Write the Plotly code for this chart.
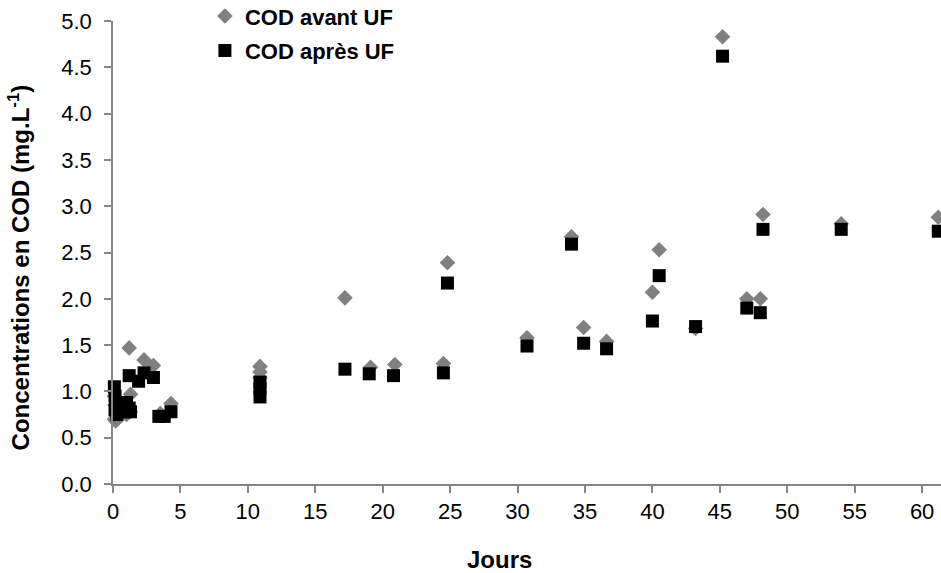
import plotly.graph_objects as go

# Data
avant_x = [0.1, 0.2, 0.15, 0.1, 0.3, 0.6, 1.0, 1.3, 1.3, 1.2, 2.3, 3.0, 3.5, 4.3,
           10.9, 10.9, 10.9, 17.2, 19.1, 20.9, 24.5, 24.8, 30.7, 34.0, 34.9, 36.6,
           40.0, 40.5, 43.2, 45.2, 47.0, 48.0, 48.2, 54.0, 61.2]
avant_y = [0.70, 0.68, 0.85, 0.95, 0.80, 0.88, 0.75, 0.97, 0.78, 1.47, 1.34, 1.28, 0.76, 0.87,
           1.27, 1.21, 1.15, 2.01, 1.26, 1.29, 1.30, 2.39, 1.58, 2.67, 1.69, 1.54,
           2.07, 2.53, 1.68, 4.83, 2.00, 2.00, 2.91, 2.81, 2.88]

apres_x = [0.1, 0.15, 0.2, 0.15, 0.3, 0.6, 0.8, 1.0, 1.2, 1.3, 1.2, 1.9, 2.3, 3.0, 3.4, 3.8, 4.3,
           10.9, 10.9, 10.9, 17.2, 19.0, 20.8, 24.5, 24.8, 30.7, 34.0, 34.9, 36.6,
           40.0, 40.5, 43.2, 45.2, 47.0, 48.0, 48.2, 54.0, 61.2]
apres_y = [1.05, 0.95, 0.88, 0.80, 0.75, 0.82, 0.78, 0.88, 0.82, 0.78, 1.17, 1.11, 1.20, 1.15, 0.73, 0.73, 0.78,
           1.10, 1.03, 0.94, 1.24, 1.19, 1.17, 1.20, 2.17, 1.49, 2.59, 1.52, 1.46,
           1.76, 2.25, 1.70, 4.62, 1.90, 1.85, 2.75, 2.75, 2.73]

x_ticks = [0, 5, 10, 15, 20, 25, 30, 35, 40, 45, 50, 55, 60]
y_ticks = [0.0, 0.5, 1.0, 1.5, 2.0, 2.5, 3.0, 3.5, 4.0, 4.5, 5.0]
y_tick_labels = [f"{v:.1f}" for v in y_ticks]

FONT = "Liberation Sans, Arial, sans-serif"
AXIS_COLOR = "#868686"

fig = go.Figure()
fig.add_trace(go.Scatter(
    x=avant_x, y=avant_y, mode="markers", name="<b>COD avant UF</b>",
    legendgroup="a",
    marker=dict(symbol="diamond", size=12, color="#808080", line=dict(width=0)),
    cliponaxis=False,
))
fig.add_trace(go.Scatter(
    x=apres_x, y=apres_y, mode="markers", name="<b>COD après UF</b>",
    legendgroup="b",
    marker=dict(symbol="square", size=13, color="#000000", line=dict(width=0)),
    cliponaxis=False,
))

fig.update_layout(
    width=941, height=573,
    margin=dict(l=113, r=0, t=21, b=89, autoexpand=False),
    paper_bgcolor="white", plot_bgcolor="white",
    font=dict(family=FONT, size=22, color="#000000"),
    showlegend=True,
    legend=dict(
        x=0.111, y=1.0557, xanchor="left", yanchor="top",
        font=dict(family=FONT, size=22, color="#000000"),
        bgcolor="rgba(0,0,0,0)", borderwidth=0,
        tracegroupgap=3,
    ),
    xaxis=dict(
        range=[0, 61.4], tickvals=x_ticks, ticktext=[str(v) for v in x_ticks],
        showgrid=False, zeroline=False, automargin=False,
        showline=True, linecolor=AXIS_COLOR, linewidth=1.5,
        ticks="outside", ticklen=7, tickcolor=AXIS_COLOR, tickwidth=1.5,
        tickfont=dict(family=FONT, size=22, color="#000000"),
    ),
    yaxis=dict(
        range=[0, 5], tickvals=y_ticks, ticktext=y_tick_labels,
        showgrid=False, zeroline=False, automargin=False,
        showline=True, linecolor=AXIS_COLOR, linewidth=1.5,
        ticks="outside", ticklen=7, tickcolor=AXIS_COLOR, tickwidth=1.5,
        ticklabelstandoff=8,
        tickfont=dict(family=FONT, size=22, color="#000000"),
    ),
    annotations=[
        dict(text="<b>Jours</b>", xref="paper", yref="paper",
             x=0.467, y=-0.1634, xanchor="center", yanchor="middle",
             showarrow=False, font=dict(family=FONT, size=24, color="#000000")),
        dict(text="<b>Concentrations en COD (mg.L<sup>-1</sup>)</b>", xref="paper", yref="paper",
             x=-0.114, y=0.467, xanchor="center", yanchor="middle", textangle=-90,
             showarrow=False, font=dict(family=FONT, size=24, color="#000000")),
    ],
)

# Remove the browser's default 8px body margin so the figure fills the window exactly
fig.write_html(
    "out.html",
    config={"displayModeBar": False},
    post_script="document.body.style.margin='0';document.body.style.overflow='hidden';",
)
